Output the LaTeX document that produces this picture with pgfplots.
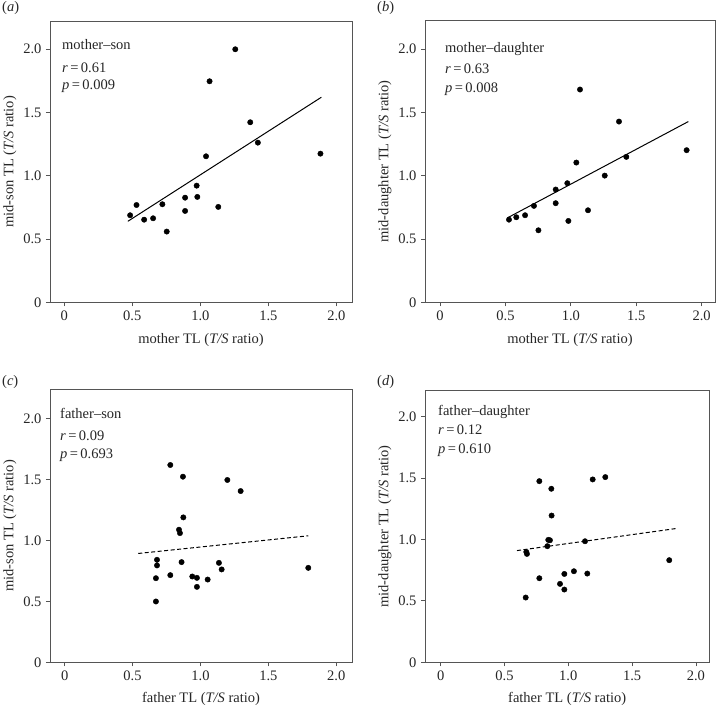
\documentclass[border=0pt]{standalone}
\usepackage{fontspec}
\setmainfont{Liberation Serif}
\usepackage{pgfplots}
\pgfplotsset{compat=1.18}
\definecolor{axgray}{HTML}{555555}
\newcommand{\fs}{\fontsize{14.5}{16}\selectfont}
\pgfplotsset{
  panel/.style={
    scale only axis,
    anchor=south west,
    axis line style={draw=axgray, line width=0.9pt},
    xtick={0,0.5,1,1.5,2},
    xticklabels={0,0.5,1.0,1.5,2.0},
    ytick={0,0.5,1,1.5,2},
    yticklabels={0,0.5,1.0,1.5,2.0},
    tick align=outside,
    tick pos=left,
    major tick length=4pt,
    tick style={draw=axgray, line width=0.8pt},
    ticklabel style={font=\fs, text=black!85},
    /pgf/number format/assume math mode=true,
    xticklabel style={yshift=-1pt},
    yticklabel style={xshift=-1pt},
    every axis x label/.style={at={(rel axis cs:0.5,0)}, anchor=center, yshift=-38pt, font=\fs, text=black!85},
    every axis y label/.style={at={([xshift=-40pt]rel axis cs:0,0.5)}, anchor=center, rotate=90, font=\fs, text=black!85},
    ymin=0,
    clip=false,
  },
  dots/.style={only marks, mark=*, mark size=2.7pt, mark options={fill=black, draw=black}},
  fitl/.style={no marks, black, line width=1pt},
  dashl/.style={no marks, black, line width=1pt, dash pattern=on 4pt off 2.5pt},
}
\begin{document}
\begin{tikzpicture}[x=1pt,y=1pt]
\path[use as bounding box] (0,0) rectangle (717,707);

% (a)
\begin{axis}[panel, at={(50pt,404.7pt)}, width=302pt, height=280.6pt,
  xmin=-0.105, xmax=2.115, ymax=2.218,
  xlabel={mother TL (\textit{T/S} ratio)}, ylabel={mid-son TL (\textit{T/S} ratio)}]
\addplot[dots] coordinates {(0.484,0.688) (0.531,0.769) (0.587,0.653) (0.653,0.664) (0.721,0.775) (0.753,0.559) (0.888,0.827) (0.888,0.722) (0.973,0.922) (0.978,0.833) (1.042,1.154) (1.068,1.747) (1.132,0.754) (1.257,2.000) (1.367,1.423) (1.423,1.262) (1.883,1.175)};
\addplot[fitl] coordinates {(0.467,0.640) (1.890,1.621)};
\end{axis}

% (b)
\begin{axis}[panel, at={(425pt,404.7pt)}, width=290pt, height=281.6pt,
  xmin=-0.115, xmax=2.102, ymax=2.225,
  xlabel={mother TL (\textit{T/S} ratio)}, ylabel={mid-daughter TL (\textit{T/S} ratio)}]
\addplot[dots] coordinates {(0.527,0.653) (0.583,0.672) (0.650,0.688) (0.718,0.762) (0.752,0.569) (0.884,0.891) (0.884,0.783) (0.973,0.941) (0.981,0.643) (1.042,1.104) (1.070,1.681) (1.131,0.727) (1.259,1.001) (1.368,1.428) (1.424,1.149) (1.885,1.202)};
\addplot[fitl] coordinates {(0.515,0.667) (1.898,1.428)};
\end{axis}

% (c)
\begin{axis}[panel, at={(50pt,44.7pt)}, width=302pt, height=273pt,
  xmin=-0.108, xmax=2.116, ymax=2.24,
  every axis x label/.append style={yshift=1pt},
  xlabel={father TL (\textit{T/S} ratio)}, ylabel={mid-son TL (\textit{T/S} ratio)}]
\addplot[dots] coordinates {(0.778,1.619) (0.871,1.523) (1.198,1.496) (1.296,1.405) (0.874,1.189) (0.842,1.088) (0.849,1.060) (0.680,0.841) (0.680,0.795) (0.861,0.822) (1.136,0.816) (1.156,0.762) (1.794,0.775) (0.672,0.690) (0.778,0.715) (0.940,0.704) (0.974,0.693) (1.053,0.679) (0.974,0.619) (0.672,0.499)};
\addplot[dashl] coordinates {(0.542,0.893) (1.794,1.038)};
\end{axis}

% (d)
\begin{axis}[panel, at={(425pt,44.7pt)}, width=284.3pt, height=271.6pt,
  xmin=-0.123, xmax=2.105, ymax=2.21,
  every axis x label/.append style={yshift=1pt},
  xlabel={father TL (\textit{T/S} ratio)}, ylabel={mid-daughter TL (\textit{T/S} ratio)}]
\addplot[dots] coordinates {(0.773,1.474) (0.867,1.412) (1.191,1.488) (1.290,1.507) (0.869,1.194) (0.843,0.996) (0.856,0.993) (0.836,0.945) (1.131,0.985) (0.671,0.898) (0.676,0.882) (1.791,0.831) (1.044,0.741) (0.969,0.719) (1.149,0.722) (0.773,0.684) (0.935,0.638) (0.969,0.592) (0.666,0.527)};
\addplot[dashl] coordinates {(0.598,0.909) (1.841,1.088)};
\end{axis}

% annotations
\begin{scope}[every node/.style={font=\fs, text=black!85, anchor=base west, inner sep=0pt}]
\node at (2,695) {(\textit{a})};
\node at (377,695) {(\textit{b})};
\node at (2,321) {(\textit{c})};
\node at (377,321) {(\textit{d})};
\node at (62,657) {mother–son};
\node at (62,634.7) {\textit{r}\,=\,0.61};
\node at (62,617.7) {\textit{p}\,=\,0.009};
\node at (445,654.7) {mother–daughter};
\node at (445,633) {\textit{r}\,=\,0.63};
\node at (445,614.7) {\textit{p}\,=\,0.008};
\node at (60,288) {father–son};
\node at (60,266) {\textit{r}\,=\,0.09};
\node at (60,248) {\textit{p}\,=\,0.693};
\node at (438,291) {father–daughter};
\node at (438,272) {\textit{r}\,=\,0.12};
\node at (438,253.7) {\textit{p}\,=\,0.610};
\end{scope}
\end{tikzpicture}
\end{document}
